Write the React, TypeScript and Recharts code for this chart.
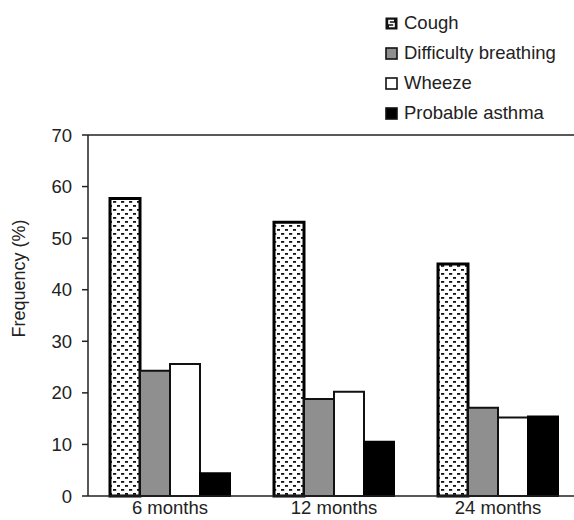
import React from 'react';
import { BarChart, Bar, XAxis, YAxis, ReferenceLine } from 'recharts';

const categories = ['6 months', '12 months', '24 months'];
const cough = [57.7, 53.1, 45.0];
const difficultyBreathing = [24.3, 18.8, 17.1];
const wheeze = [25.6, 20.2, 15.2];
const probableAsthma = [4.4, 10.5, 15.4];
const yTicks = [0, 10, 20, 30, 40, 50, 60, 70];

const seriesNames = ['Cough', 'Difficulty breathing', 'Wheeze', 'Probable asthma'];

const data = categories.map((name, i) => ({
  name,
  cough: cough[i],
  difficulty: difficultyBreathing[i],
  wheeze: wheeze[i],
  asthma: probableAsthma[i],
}));

const FONT = '"Liberation Sans", Arial, Helvetica, sans-serif';
const INK = '#222';

function DotPattern({ id }: { id: string }) {
  return (
    <pattern id={id} width="8" height="8" patternUnits="userSpaceOnUse">
      <rect width="8" height="8" fill="#fff" />
      <rect x="1" y="1" width="3.2" height="1.8" fill="#111" />
      <rect x="5" y="5" width="3.2" height="1.8" fill="#111" />
    </pattern>
  );
}

function LegendIcon({ kind }: { kind: number }) {
  if (kind === 0) {
    return (
      <svg width="13" height="13" style={{ display: 'block' }}>
        <rect x="0.5" y="0.5" width="12" height="12" fill="#111" />
        <path d="M9 3.5 H4 V6.5 H9 V9.5 H4" stroke="#fff" strokeWidth="1.6" fill="none" />
      </svg>
    );
  }
  const fills = ['', '#8f8f8f', '#fff', '#000'];
  return (
    <svg width="13" height="13" style={{ display: 'block' }}>
      <rect x="1" y="1" width="11" height="11" fill={fills[kind]} stroke="#111" strokeWidth="1.6" />
    </svg>
  );
}

// legend drawn as plain html so it doesn't eat plot width
function LegendBox() {
  return (
    <div style={{ position: 'absolute', left: 385, top: 8, fontFamily: FONT, fontSize: 18.5, color: INK }}>
      {seriesNames.map((name, i) => (
        <div key={name} style={{ display: 'flex', alignItems: 'center', height: 30 }}>
          <LegendIcon kind={i} />
          <span style={{ marginLeft: 6 }}>{name}</span>
        </div>
      ))}
    </div>
  );
}

function YLabel(props: any) {
  const vb = props.viewBox || {};
  const x = vb.x + 19;
  const y = vb.y + vb.height / 2 - 37;
  return (
    <text
      x={x}
      y={y}
      transform={`rotate(-90, ${x}, ${y})`}
      textAnchor="middle"
      dominantBaseline="central"
      fontFamily={FONT}
      fontSize={18}
      fill={INK}
    >
      Frequency (%)
    </text>
  );
}

export default function App() {
  return (
    <div style={{ position: 'absolute', left: 0, top: 0, width: 574, height: 520, background: '#fff', overflow: 'hidden' }}>
      <BarChart
        width={580}
        height={520}
        data={data}
        margin={{ top: 135, right: 0, left: 0, bottom: 0 }}
        barGap={0}
        barSize={30}
      >
        <defs>
          <DotPattern id="coughDots" />
        </defs>
        <XAxis
          dataKey="name"
          height={24}
          axisLine={{ stroke: INK, strokeWidth: 1.5 }}
          tickLine={false}
          tickSize={0}
          tickMargin={5}
          tick={{ fill: INK, fontSize: 18.5, fontFamily: FONT }}
        />
        <YAxis
          width={88}
          domain={[0, 70]}
          ticks={yTicks}
          interval={0}
          axisLine={{ stroke: INK, strokeWidth: 1.5 }}
          tickLine={{ stroke: INK, strokeWidth: 1.5 }}
          tickSize={6}
          tickMargin={10}
          tick={{ fill: INK, fontSize: 18.5, fontFamily: FONT }}
          label={<YLabel />}
        />
        <ReferenceLine y={70} stroke={INK} strokeWidth={1.5} />
        <Bar dataKey="cough" name="Cough" fill="url(#coughDots)" stroke="#000" strokeWidth={3} isAnimationActive={false} />
        <Bar dataKey="difficulty" name="Difficulty breathing" fill="#8f8f8f" stroke="#111" strokeWidth={2} isAnimationActive={false} />
        <Bar dataKey="wheeze" name="Wheeze" fill="#ffffff" stroke="#111" strokeWidth={2} isAnimationActive={false} />
        <Bar dataKey="asthma" name="Probable asthma" fill="#000000" stroke="#000" strokeWidth={2} isAnimationActive={false} />
      </BarChart>
      <LegendBox />
    </div>
  );
}
